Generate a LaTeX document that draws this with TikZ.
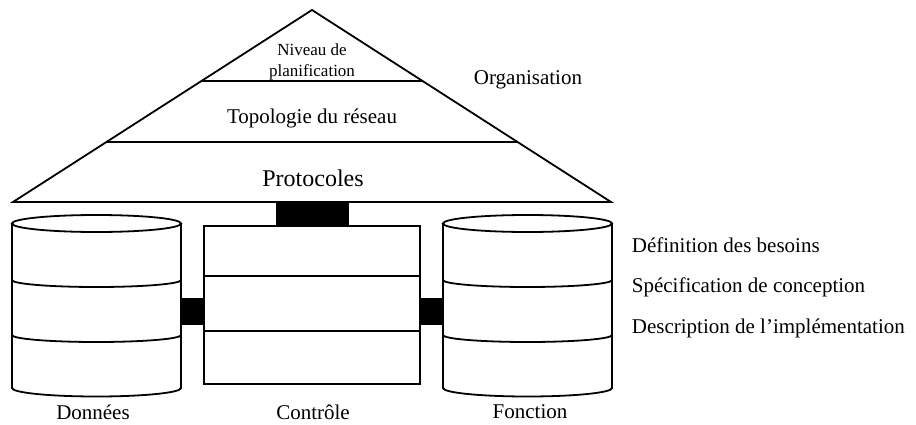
\documentclass[tikz,border=0pt]{standalone}
\usepackage{fontspec}
\setmainfont{Liberation Serif}
\begin{document}
\begin{tikzpicture}[x=1pt,y=1pt,line width=1.8pt,line join=miter,
  lbl/.style={inner sep=0pt,font=\fontsize{21}{24}\selectfont},
  joint/.style={fill=black,draw=none}]
\useasboundingbox (0,0) rectangle (916,424);
% pyramid
\coordinate (apex) at (312,414);
\coordinate (bl) at (13,222);
\coordinate (br) at (611,222);
\draw (bl) -- (apex) -- (br) -- cycle;
\draw (201.4,343) -- (422.6,343);
\draw (106.4,282) -- (517.6,282);
\node[inner sep=0pt,align=center,font=\fontsize{17}{21}\selectfont] (niveau) at (312,362) {Niveau de\\planification};
\node[lbl] (topo) at (312,306) {Topologie du réseau};
\node[inner sep=0pt,font=\fontsize{24}{28}\selectfont] (proto) at (313,246) {Protocoles};
\node[lbl] (orga) at (528,344) {Organisation};
% top joint
\fill[joint] (276,222) rectangle (349,198);
% control box
\draw (204,198) rectangle (420,40);
\draw (204,148) -- (420,148);
\draw (204,93) -- (420,93);
% cylinders
\foreach \cx/\nm in {96.5/left,527.5/right}{
  \draw (\cx-84.5,200.5) -- (\cx-84.5,36)
        arc[start angle=180,end angle=360,x radius=84.5,y radius=8.5]
        -- (\cx+84.5,200.5);
  \draw (\cx,200.5) ellipse[x radius=84.5,y radius=8.5];
  \draw (\cx-84.5,144) arc[start angle=180,end angle=360,x radius=84.5,y radius=7];
  \draw (\cx-84.5,89) arc[start angle=180,end angle=360,x radius=84.5,y radius=7];
}
% side joints
\fill[joint] (181,126) rectangle (204,99);
\fill[joint] (420,126) rectangle (443,99);
% labels
\node[lbl] (donnees) at (93,12) {Données};
\node[lbl] (controle) at (313,12) {Contrôle};
\node[lbl] (fonction) at (530,12) {Fonction};
\node[lbl,anchor=west] (def) at (631,179) {Définition des besoins};
\node[lbl,anchor=west] (spec) at (631,137) {Spécification de conception};
\node[lbl,anchor=west] (desc) at (631,96) {Description de l’implémentation};
\end{tikzpicture}
\end{document}
